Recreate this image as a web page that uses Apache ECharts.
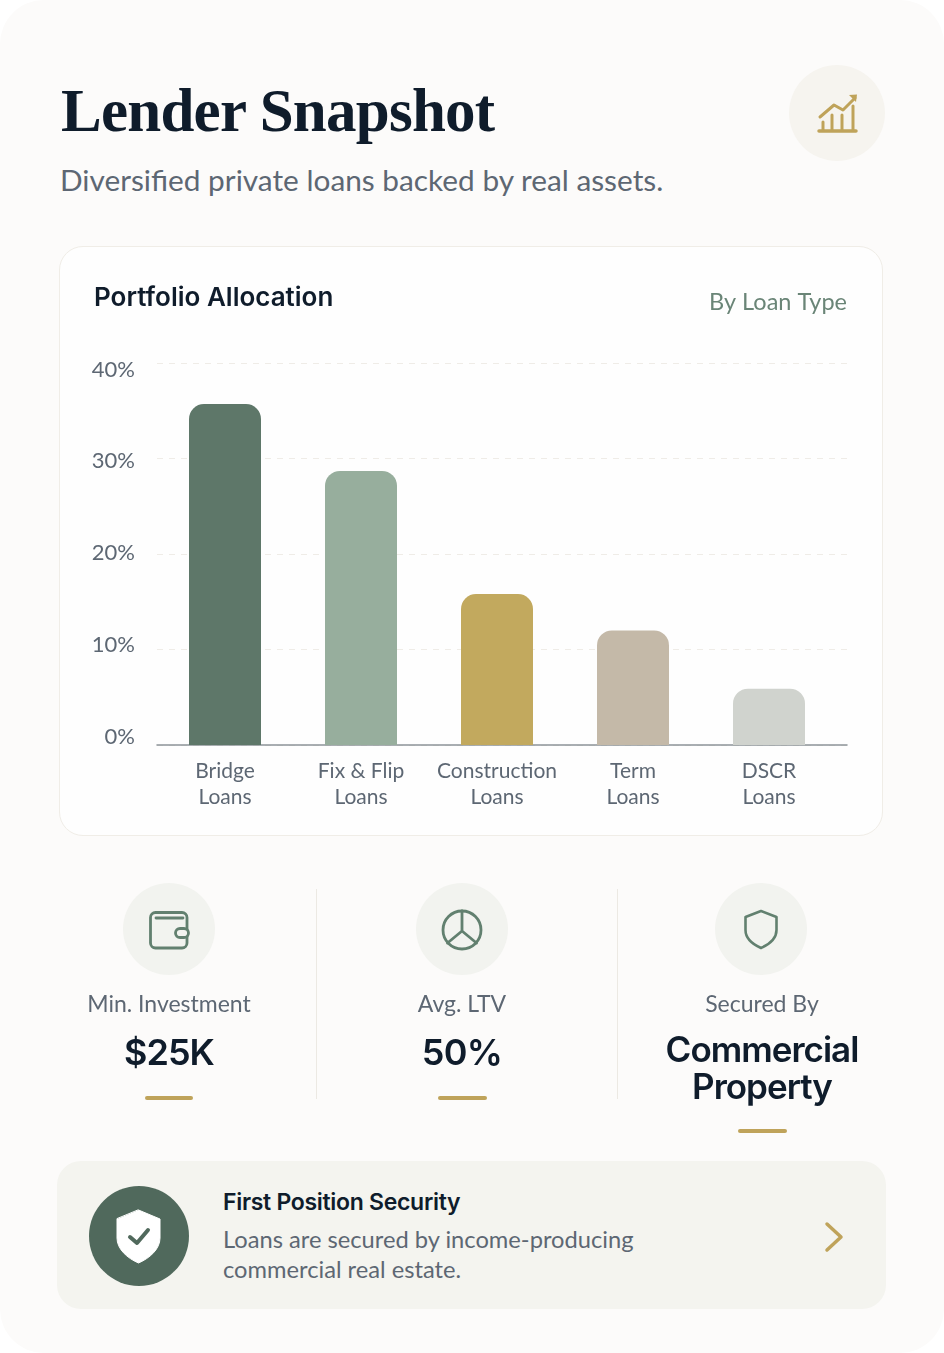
<!DOCTYPE html>
<html><head><meta charset="utf-8">
<script src="https://cdn.jsdelivr.net/npm/echarts@6/dist/echarts.min.js"></script>
<style>
html,body{margin:0;padding:0;width:944px;height:1353px;background:#fff;overflow:hidden;font-family:Lato,sans-serif}
.abs{position:absolute}
.t{position:absolute;white-space:nowrap;line-height:1;transform:translateY(-50%)}
.c{transform:translate(-50%,-50%)}
.circle{position:absolute;border-radius:50%}
svg{position:absolute;overflow:visible}
</style></head><body>
<div class="abs" style="left:0;top:0;width:944px;height:1353px;background:#fcfbfa;border-radius:44px"></div>
<div class="t" style="left:61px;top:111px;font:bold 61px 'Liberation Serif',serif;color:#0f1c2b;letter-spacing:-.75px">Lender Snapshot</div>
<div class="t" style="left:60px;top:180px;font-size:29.800px;color:#5d6773">Diversified private loans backed by real assets.</div>
<div class="circle" style="left:789px;top:65px;width:96px;height:96px;background:#f6f4ef"></div>
<div class="circle" style="left:123px;top:883px;width:92px;height:92px;background:#f2f3ef"></div>
<div class="circle" style="left:416px;top:883px;width:92px;height:92px;background:#f2f3ef"></div>
<div class="circle" style="left:715px;top:883px;width:92px;height:92px;background:#f2f3ef"></div>
<svg style="left:0;top:0" width="944" height="1353" fill="none" stroke-linecap="round" stroke-linejoin="round">
 <g stroke="#bfa35a" stroke-width="3">
  <path d="M819 131H856" stroke-width="3.500"/>
  <path d="M823 130V122M832 130V115M842 130V115M853 130V106"/>
  <path d="M820 117L834 105L843 110L855 98"/>
 </g>
 <path d="M849 95L857 94.500L856 102Z" fill="#bfa35a"/>
 <g stroke="#62806f" stroke-width="2.800">
  <rect x="150.500" y="912.500" width="36.500" height="35.500" rx="5"/>
  <path d="M156 918H183"/>
  <rect x="175.500" y="928.500" width="13" height="9" rx="4.500" fill="#f2f3ef"/>
  <circle cx="462" cy="930" r="19"/>
  <path d="M462 911V931L447.500 943M462 931L476.500 943"/>
  <path d="M761 911L776.500 917V930C776.500 938 770 944 761 948C752 944 745.500 938 745.500 930V917Z" stroke-width="2.600"/>
 </g>
</svg>
<div class="abs" style="left:315.500px;top:889px;width:1.500px;height:210px;background:#ece9e3"></div>
<div class="abs" style="left:616.500px;top:889px;width:1.500px;height:210px;background:#ece9e3"></div>
<div class="abs" style="left:59px;top:246px;width:822px;height:588px;background:#fefefe;border:1.500px solid #f0ede7;border-radius:24px;box-sizing:content-box"></div>
<div id="chart" class="abs" style="left:0;top:0;width:944px;height:1353px"></div>
<div class="t c" style="left:169px;top:1003px;font-size:23px;color:#5d6773">Min. Investment</div>
<div class="t c" style="left:462px;top:1003px;font-size:23px;color:#5d6773">Avg. LTV</div>
<div class="t c" style="left:762px;top:1003px;font-size:23px;color:#5d6773">Secured By</div>
<div class="t c" style="left:169px;top:1052px;font:600 36px Inter,sans-serif;color:#0f1c2b;letter-spacing:-1px">$25K</div>
<div class="t c" style="left:462px;top:1052px;font:600 36px Inter,sans-serif;color:#0f1c2b;letter-spacing:-.6px">50%</div>
<div class="t c" style="left:762px;top:1049px;font:600 35px Inter,sans-serif;color:#0f1c2b;letter-spacing:-1px">Commercial</div>
<div class="t c" style="left:762px;top:1086px;font:600 35px Inter,sans-serif;color:#0f1c2b;letter-spacing:-1px">Property</div>
<div class="abs" style="left:144.500px;top:1096px;width:48.500px;height:4px;border-radius:2px;background:#bfa35a"></div>
<div class="abs" style="left:438px;top:1096px;width:48.500px;height:4px;border-radius:2px;background:#bfa35a"></div>
<div class="abs" style="left:738px;top:1129px;width:48.500px;height:4px;border-radius:2px;background:#bfa35a"></div>
<div class="abs" style="left:57px;top:1161px;width:829px;height:148px;border-radius:24px;background:#f4f4ef"></div>
<div class="circle" style="left:89px;top:1186px;width:100px;height:100px;background:#50695c"></div>
<svg style="left:0;top:0" width="944" height="1353" fill="none" stroke-linecap="round" stroke-linejoin="round">
 <path d="M138.500 1210L160 1219V1238C160 1249 150 1258 138.500 1263C127 1258 117 1249 117 1238V1219Z" fill="#fff" stroke="#fff" stroke-width="1"/>
 <path d="M130 1237L137 1243L148 1230" stroke="#50695c" stroke-width="4"/>
 <path d="M827 1224L841 1237L827 1250" stroke="#bfa35a" stroke-width="3.500"/>
</svg>
<div class="t" style="left:223px;top:1202px;font:600 23px Inter,sans-serif;color:#0f1c2b;letter-spacing:-.3px">First Position Security</div>
<div class="t" style="left:223px;top:1240px;font-size:23.700px;color:#5d6773">Loans are secured by income-producing</div>
<div class="t" style="left:223px;top:1270px;font-size:23.700px;color:#5d6773">commercial real estate.</div>
<script>
const categories = ['Bridge\nLoans', 'Fix & Flip\nLoans', 'Construction\nLoans', 'Term\nLoans', 'DSCR\nLoans'];
const allocation = [35.7, 28.7, 15.8, 12.0, 5.9];
const barColors = ['#5e7769', '#97ae9d', '#c2a95e', '#c4b9a8', '#d0d3ce'];
const yTicks = [0, 10, 20, 30, 40];

const chart = echarts.init(document.getElementById('chart'), null, {renderer: 'canvas'});
chart.setOption({
  animation: false,
  title: [
    {text: 'Portfolio Allocation', left: 94, top: 285, padding: 0,
     textStyle: {fontFamily: 'Inter', fontSize: 26, fontWeight: 600, color: '#0f1c2b'}},
    {text: 'By Loan Type', right: 97, top: 290, padding: 0,
     textStyle: {fontFamily: 'Lato', fontSize: 23.5, fontWeight: 400, color: '#6a8577'}}
  ],
  grid: [
    {left: 157, width: 690, top: 363, height: 382},
    {left: 157, width: 680, top: 363, height: 382},
    {left: 136, width: 700, top: 369.5, height: 367}
  ],
  xAxis: [
    {gridIndex: 0, type: 'category', data: categories.map(() => ''), axisTick: {show: false},
     axisLabel: {show: false}, axisLine: {lineStyle: {color: '#8d9499', width: 1.5}}},
    {gridIndex: 1, type: 'category', data: categories, axisTick: {show: false}, axisLine: {show: false},
     axisLabel: {margin: 13, fontFamily: 'Lato', fontSize: 21, lineHeight: 26, color: '#5d6773', interval: 0}},
    {gridIndex: 2, type: 'category', data: [''], show: false}
  ],
  yAxis: [
    {gridIndex: 0, type: 'value', min: 0, max: 40, interval: 10, axisLabel: {show: false},
     axisLine: {show: false}, axisTick: {show: false},
     splitLine: {lineStyle: {color: '#efece7', type: [6, 6], width: 1}}},
    {gridIndex: 1, type: 'value', min: 0, max: 40, interval: 10, show: false, splitLine: {show: false}},
    {gridIndex: 2, type: 'value', min: yTicks[0], max: yTicks[yTicks.length - 1], interval: 10,
     axisLine: {show: false}, axisTick: {show: false}, splitLine: {show: false},
     axisLabel: {formatter: '{value}%', margin: 1, fontFamily: 'Lato', fontSize: 22, color: '#5d6773'}}
  ],
  series: [{
    type: 'bar', xAxisIndex: 1, yAxisIndex: 1, barWidth: 72, z: 3,
    data: allocation.map((v, i) => ({value: v, itemStyle: {color: barColors[i], borderRadius: [15, 15, 0, 0]}}))
  }]
});
</script>
</body></html>
